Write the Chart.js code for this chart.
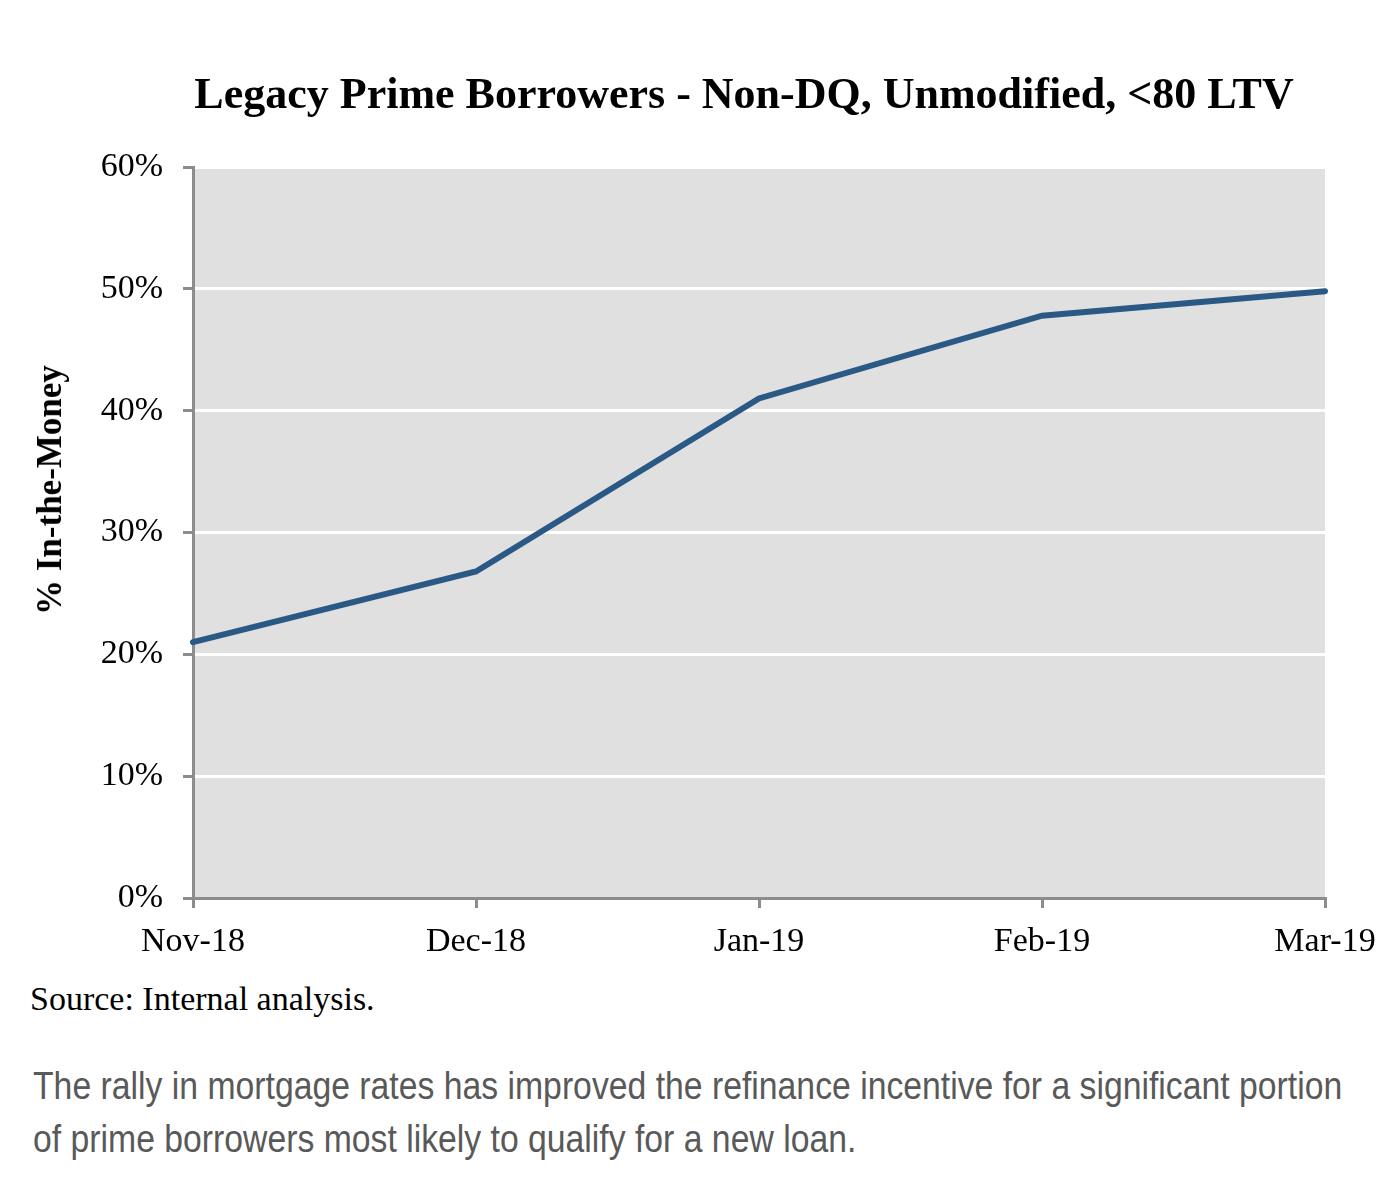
<!DOCTYPE html>
<html>
<head>
<meta charset="utf-8">
<script src="https://cdn.jsdelivr.net/npm/chart.js@4/dist/chart.umd.min.js"></script>
<style>
  body { margin: 0; background: #fff; }
  #page { position: relative; width: 1394px; height: 1188px; }
  #title { position: absolute; left: 193px; width: 1102px; top: 68px; text-align: center;
           font: bold 44px 'Liberation Serif', serif; color: #000; white-space: nowrap; }
  #ytitle { position: absolute; left: 50px; top: 490px; transform: translate(-50%, -50%) rotate(-90deg);
            font: bold 35px 'Liberation Serif', serif; color: #000; white-space: nowrap; }
  #wrap { position: absolute; left: 0; top: 0; width: 1394px; height: 980px; }
  #source { position: absolute; left: 30px; top: 980px; font: 34px 'Liberation Serif', serif; color: #000; }
  #note { position: absolute; left: 33px; top: 1060px; font: 38px 'Liberation Sans', sans-serif;
          color: #595959; line-height: 53px; white-space: nowrap;
          transform: scaleX(0.888); transform-origin: left top; }
</style>
</head>
<body>
<div id="page">
  <div id="wrap"><canvas id="chart"></canvas></div>
  <div id="title">Legacy Prime Borrowers - Non-DQ, Unmodified, &lt;80 LTV</div>
  <div id="ytitle">% In-the-Money</div>
  <div id="source">Source: Internal analysis.</div>
  <div id="note">The rally in mortgage rates has improved the refinance incentive for a significant portion<br>of prime borrowers most likely to qualify for a new loan.</div>
</div>
<script>
(function () {
    var months = ['Nov-18', 'Dec-18', 'Jan-19', 'Feb-19', 'Mar-19'];
    var inTheMoney = [21.0, 26.8, 41.0, 47.8, 49.8];
    var yTicks = [0, 10, 20, 30, 40, 50, 60];

    var axisGray = '#8c8c8c';
    var tickFont = { family: "'Liberation Serif', serif", size: 34 };

    var plotBg = {
        id: 'plotBg',
        beforeDraw: function (chart) {
            var a = chart.chartArea, ctx = chart.ctx;
            ctx.save();
            ctx.fillStyle = '#e0e0e0';
            ctx.fillRect(a.left, a.top, a.right - a.left, a.bottom - a.top);
            ctx.restore();
        }
    };

    new Chart(document.getElementById('chart').getContext('2d'), {
        type: 'line',
        data: {
            labels: months,
            datasets: [{
                data: inTheMoney,
                borderColor: '#2b5986',
                borderWidth: 6,
                borderCapStyle: 'round',
                pointRadius: 0,
                tension: 0,
                fill: false
            }]
        },
        options: {
            responsive: true,
            maintainAspectRatio: false,
            animation: false,
            layout: { padding: { left: 0, right: 69, top: 167, bottom: 22 } },
            plugins: { legend: { display: false }, tooltip: { enabled: false }, title: { display: false } },
            scales: {
                x: {
                    offset: false,
                    grid: { drawOnChartArea: false, tickLength: 10, tickColor: axisGray, lineWidth: 3 },
                    border: { color: axisGray, width: 3 },
                    ticks: { color: '#000', font: tickFont, padding: 14, maxRotation: 0 },
                    afterFit: function (s) { s.height = 60; }
                },
                y: {
                    min: 0,
                    max: 60,
                    afterBuildTicks: function (s) { s.ticks = yTicks.map(function (v) { return { value: v }; }); },
                    grid: { color: '#ffffff', lineWidth: 3, tickLength: 10, tickColor: axisGray },
                    border: { color: axisGray, width: 3 },
                    ticks: {
                        color: '#000', font: tickFont, padding: 20,
                        callback: function (v) { return v + '%'; }
                    },
                    afterFit: function (s) { s.width = 193; }
                }
            }
        },
        plugins: [plotBg]
    });
})();
</script>
</body>
</html>
